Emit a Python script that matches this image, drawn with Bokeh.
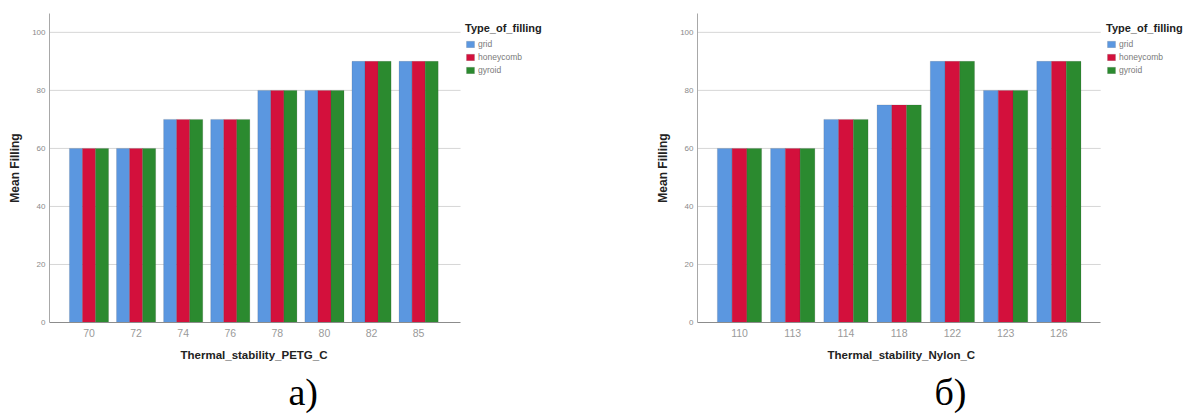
from bokeh.plotting import figure
from bokeh.layouts import row
from bokeh.models import (ColumnDataSource, Legend, LegendItem, Title,
                          FixedTicker, Range1d)
from bokeh.transform import dodge
from bokeh.embed import file_html
from bokeh.resources import INLINE

# ---- data ----
fill_types = ["grid", "honeycomb", "gyroid"]
colors = ["#5b97e0", "#d3103c", "#2b8a2f"]

petg_temps = ["70", "72", "74", "76", "78", "80", "82", "85"]
petg_grid = [60, 60, 70, 70, 80, 80, 90, 90]
petg_honeycomb = [60, 60, 70, 70, 80, 80, 90, 90]
petg_gyroid = [60, 60, 70, 70, 80, 80, 90, 90]

nylon_temps = ["110", "113", "114", "118", "122", "123", "126"]
nylon_grid = [60, 60, 70, 75, 90, 80, 90]
nylon_honeycomb = [60, 60, 70, 75, 90, 80, 90]
nylon_gyroid = [60, 60, 70, 75, 90, 80, 90]

y_ticks = [0, 20, 40, 60, 80, 100]

SANS = "Liberation Sans"
SERIF = "Liberation Serif"


def make_chart(cats, g, h, gy, xlabel, caption, width, mb_left, mb_right,
               x_start, x_end, axis_end, xlabel_offset, cap_offset, leg_loc):
    idx = list(range(len(cats)))
    src = ColumnDataSource(dict(idx=idx, cat=cats, grid=g, honeycomb=h, gyroid=gy))
    p = figure(x_range=Range1d(x_start, x_end), y_range=Range1d(0, 106.5),
               width=width, height=416,
               output_backend="svg", toolbar_location=None,
               min_border_left=mb_left, min_border_right=mb_right,
               min_border_top=13, min_border_bottom=94)
    p.outline_line_color = None
    p.xgrid.grid_line_color = None
    p.ygrid.grid_line_color = None

    # horizontal grid lines at the y ticks, limited to the axis extent
    p.segment(x0=x_start, x1=axis_end, y0=y_ticks[1:], y1=y_ticks[1:],
              line_color="#d6d6d6", line_width=1)

    bw = 0.277
    rends = []
    for i, (name, col) in enumerate(zip(fill_types, colors)):
        r = p.vbar(x=dodge("idx", (i - 1) * bw), top=name, width=bw,
                   source=src, fill_color=col, line_color="#333333", line_width=0.4,
                   line_alpha=0.35)
        rends.append(r)

    p.yaxis.ticker = FixedTicker(ticks=y_ticks)
    p.yaxis.minor_tick_line_color = None
    p.yaxis.major_tick_out = 0
    p.yaxis.major_tick_in = 0
    p.yaxis.axis_line_color = "#a8a8a8"
    p.yaxis.major_label_text_font = SANS
    p.yaxis.major_label_text_font_size = "8px"
    p.yaxis.major_label_text_color = "#8a8a8a"
    p.yaxis.major_label_standoff = 4
    p.yaxis.axis_label = "Mean Filling"
    p.yaxis.axis_label_text_font = SANS
    p.yaxis.axis_label_text_font_size = "12px"
    p.yaxis.axis_label_text_font_style = "bold"
    p.yaxis.axis_label_text_color = "#222222"
    p.yaxis.axis_label_standoff = 7

    p.xaxis.ticker = FixedTicker(ticks=idx)
    p.xaxis.major_label_overrides = {i: c for i, c in zip(idx, cats)}
    p.xaxis.bounds = (x_start, axis_end)
    p.xaxis.minor_tick_line_color = None
    p.xaxis.major_tick_out = 0
    p.xaxis.major_tick_in = 0
    p.xaxis.axis_line_color = "#8c8c8c"
    p.xaxis.major_label_text_font = SANS
    p.xaxis.major_label_text_font_size = "10.5px"
    p.xaxis.major_label_text_color = "#9a9a9a"
    p.xaxis.major_label_standoff = 6

    xt = Title(text=xlabel, align="left", offset=xlabel_offset, standoff=15,
               text_font=SANS, text_font_size="11.5px", text_font_style="bold",
               text_color="#222222")
    p.add_layout(xt, "below")

    cap = Title(text=caption, align="left", offset=cap_offset, standoff=0,
                text_font=SERIF, text_font_size="38px", text_font_style="normal",
                text_color="#000000")
    p.add_layout(cap, "below")

    legend = Legend(items=[LegendItem(label=n, renderers=[r]) for n, r in zip(fill_types, rends)],
                    location=leg_loc, title="Type_of_filling",
                    title_text_font=SANS, title_text_font_size="11px",
                    title_text_font_style="bold", title_text_color="#222222",
                    title_standoff=5,
                    label_text_font=SANS, label_text_font_size="8.5px",
                    label_text_color="#7a7a7a", glyph_width=10, glyph_height=8,
                    label_height=10, label_standoff=3, spacing=3, padding=1, margin=0,
                    border_line_color=None, background_fill_alpha=0)
    p.add_layout(legend, "center")
    return p


p1 = make_chart(petg_temps, petg_grid, petg_honeycomb, petg_gyroid,
                "Thermal_stability_PETG_C", "a)", 600, 49, 10,
                -0.839, 10.65, 7.89, 131, 239, (416, 247))
p2 = make_chart(nylon_temps, nylon_grid, nylon_honeycomb, nylon_gyroid,
                "Thermal_stability_Nylon_C", "б)", 584, 97, 0,
                -0.789, 8.36, 6.786, 130, 237, (409, 247))

layout = row(p1, p2)
open("out.html", "w").write(file_html(layout, INLINE))
